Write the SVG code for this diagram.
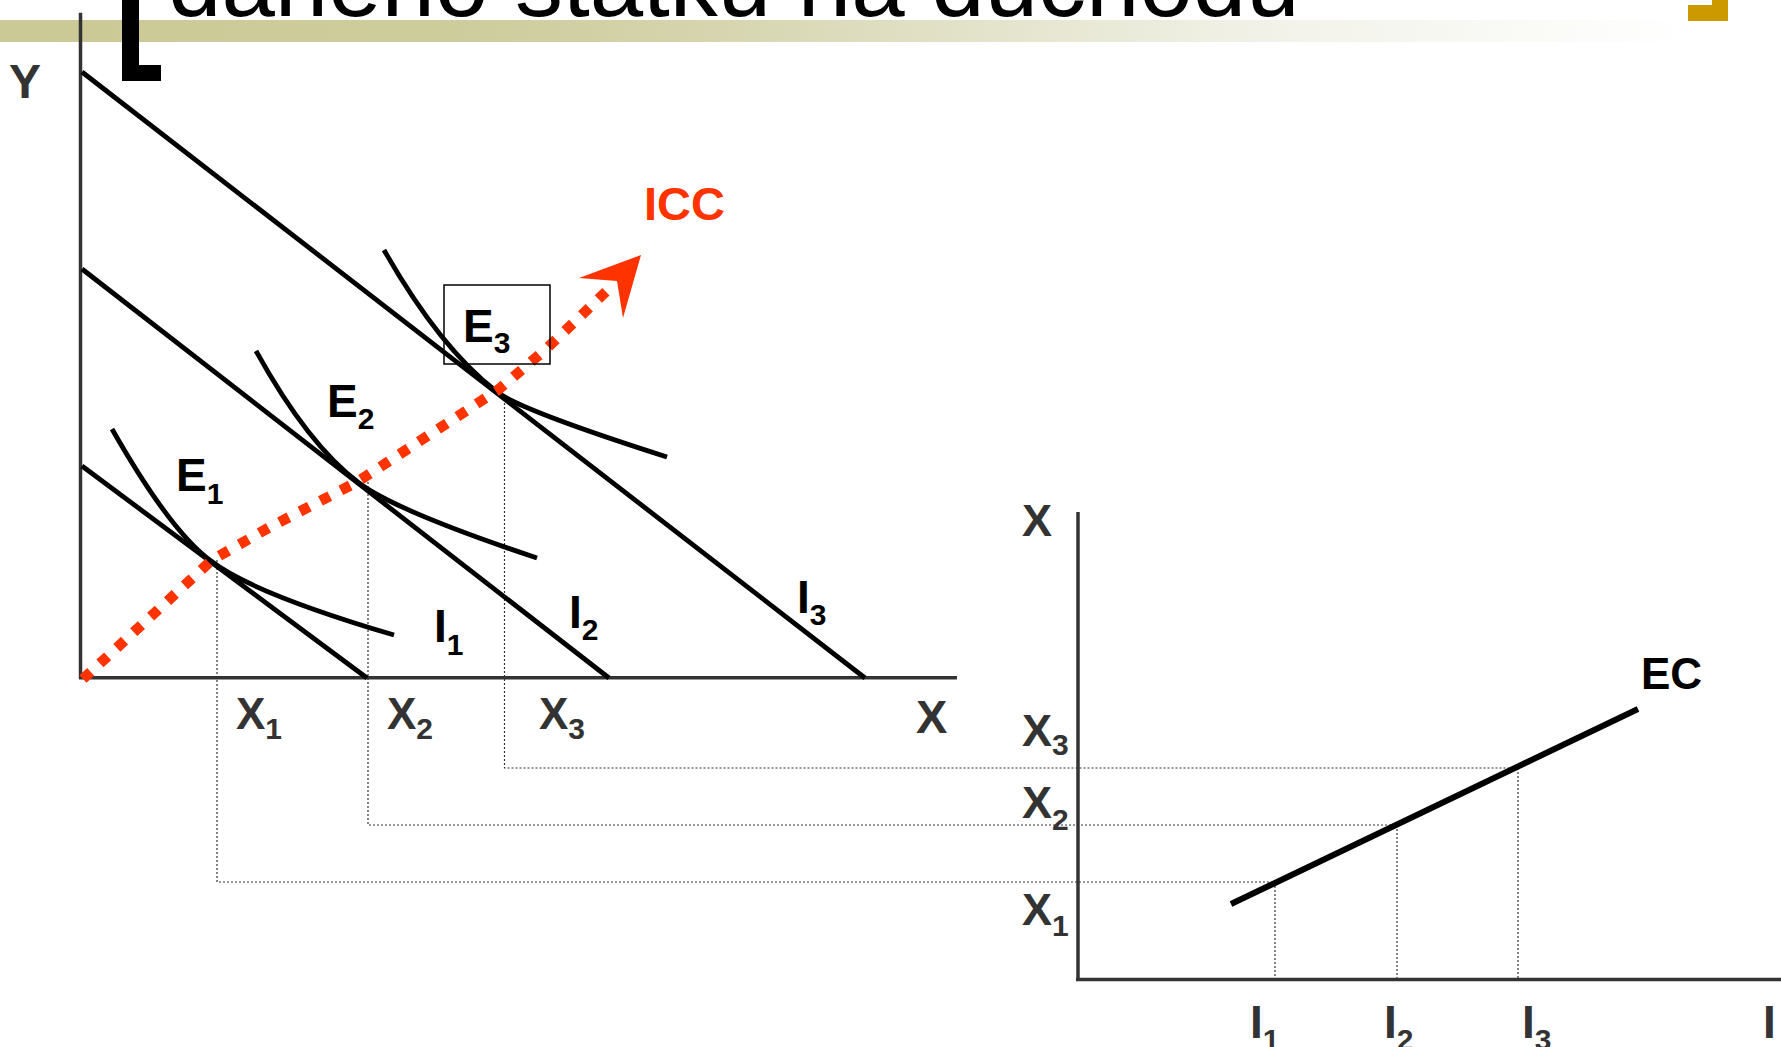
<svg xmlns="http://www.w3.org/2000/svg" width="1781" height="1047" viewBox="0 0 1781 1047">
<defs>
<linearGradient id="band" x1="0" y1="0" x2="1781" y2="0" gradientUnits="userSpaceOnUse">
<stop offset="0" stop-color="#CBCA96"/>
<stop offset="0.25" stop-color="#CDCC9B"/>
<stop offset="0.38" stop-color="#D4D3AB"/>
<stop offset="0.67" stop-color="#EEEEE1"/>
<stop offset="0.73" stop-color="#F3F3EB"/>
<stop offset="0.95" stop-color="#FFFFFF"/>
</linearGradient>
<style>
.ax{stroke:#333;stroke-width:3.5;fill:none}
.bl{stroke:#000;stroke-width:4.8;fill:none}
.ic{stroke:#000;stroke-width:4.8;fill:none;stroke-linecap:butt}
.dot{stroke:#333;stroke-width:1.2;fill:none;stroke-dasharray:2 2}
.icc{stroke:#FF3300;stroke-width:10.5;fill:none;stroke-dasharray:10.5 12.5}
.lb{font-family:"Liberation Sans",Arial,sans-serif;font-weight:bold;font-size:46px;fill:#000}
.lg{font-family:"Liberation Sans",Arial,sans-serif;font-weight:bold;font-size:44px;fill:#333}
.sub{font-size:30px}
</style>
</defs>
<rect width="1781" height="1047" fill="#fff"/>
<g id="header">
<text x="168" y="15.5" font-family="Liberation Sans, Arial, sans-serif" font-size="96" fill="#000">daného statku na důchodu</text>
<rect x="0" y="20" width="1781" height="22" fill="url(#band)"/>
<polygon points="122,0 139,0 139,65 161,65 161,81 122,81" fill="#000"/>
<polygon points="1712,0 1728,0 1728,21 1688,21 1688,5 1712,5" fill="#CC9900"/>
</g>
<g id="connectors">
<path class="dot" d="M217,560 V882 H1277"/>
<path class="dot" d="M368,482 V825 H1396"/>
<path class="dot" d="M504.5,395 V768 H1515"/>
<path class="dot" d="M1275,882 V979"/>
<path class="dot" d="M1397,825 V979"/>
<path class="dot" d="M1518,768 V979"/>
</g>
<g id="left-axes">
<line class="ax" x1="80.5" y1="12.7" x2="80.5" y2="679"/>
<line class="ax" x1="79" y1="677.7" x2="957" y2="677.7"/>
</g>
<g id="budget-lines">
<line id="bl1" class="bl" x1="82" y1="466" x2="367" y2="678"/>
<line id="bl2" class="bl" x1="82" y1="269" x2="609" y2="678"/>
<line id="bl3" class="bl" x1="82" y1="72" x2="865" y2="678"/>
</g>
<g id="indifference-curves">
<path id="ic1" class="ic" d="M112,429 Q170,531 211,561 Q252,593 394,635"/>
<path id="ic2" class="ic" d="M256,351 Q308,445 359,483 Q396,511 537,558"/>
<path id="ic3" class="ic" d="M384,250 Q439,347 497,392 Q520,410 667,457"/>
</g>
<g id="icc">
<polyline class="icc" points="83,679 212,560 270,527 357,482 498,390 545,350 612,286"/>
<polygon points="641,255 579,278 617,281 623,318" fill="#FF3300"/>
<text x="644" y="220" class="lb" style="fill:#FF3300;font-size:47px">ICC</text>
</g>
<g id="E3-box">
<rect x="444" y="285" width="106" height="79" fill="none" stroke="#000" stroke-width="1.5"/>
</g>
<g id="left-labels">
<text class="lg" x="9" y="98" style="font-size:48px">Y</text>
<text class="lb" x="176" y="491">E<tspan class="sub" dy="13">1</tspan></text>
<text class="lb" x="327" y="417">E<tspan class="sub" dy="12">2</tspan></text>
<text class="lb" x="463" y="342">E<tspan class="sub" dy="11">3</tspan></text>
<text class="lb" x="434" y="642">I<tspan class="sub" dy="13">1</tspan></text>
<text class="lb" x="569" y="628">I<tspan class="sub" dy="12">2</tspan></text>
<text class="lb" x="797" y="613">I<tspan class="sub" dy="12">3</tspan></text>
<text class="lg" x="236" y="729">X<tspan class="sub" dy="10">1</tspan></text>
<text class="lg" x="387" y="729">X<tspan class="sub" dy="10">2</tspan></text>
<text class="lg" x="539" y="729">X<tspan class="sub" dy="10">3</tspan></text>
<text class="lg" x="916" y="733" style="font-size:47px">X</text>
</g>
<g id="right-axes">
<line class="ax" x1="1078" y1="512" x2="1078" y2="981"/>
<line class="ax" x1="1076" y1="979.5" x2="1781" y2="979.5"/>
</g>
<g id="engel-curve">
<line x1="1231" y1="904" x2="1638" y2="709" stroke="#000" stroke-width="6"/>
<text class="lb" x="1641" y="689" style="font-size:44px">EC</text>
</g>
<g id="right-labels">
<text class="lg" x="1022" y="536" style="font-size:45px">X</text>
<text class="lg" x="1022" y="746" style="font-size:45px">X<tspan class="sub" dy="9">3</tspan></text>
<text class="lg" x="1022" y="818" style="font-size:45px">X<tspan class="sub" dy="12">2</tspan></text>
<text class="lg" x="1022" y="925" style="font-size:45px">X<tspan class="sub" dy="11">1</tspan></text>
<text class="lg" x="1250" y="1038" style="font-size:46px">I<tspan class="sub" dy="12">1</tspan></text>
<text class="lg" x="1384" y="1038" style="font-size:46px">I<tspan class="sub" dy="12">2</tspan></text>
<text class="lg" x="1522" y="1038" style="font-size:46px">I<tspan class="sub" dy="12">3</tspan></text>
<text class="lg" x="1763" y="1038" style="font-size:46px">I</text>
</g>
</svg>
